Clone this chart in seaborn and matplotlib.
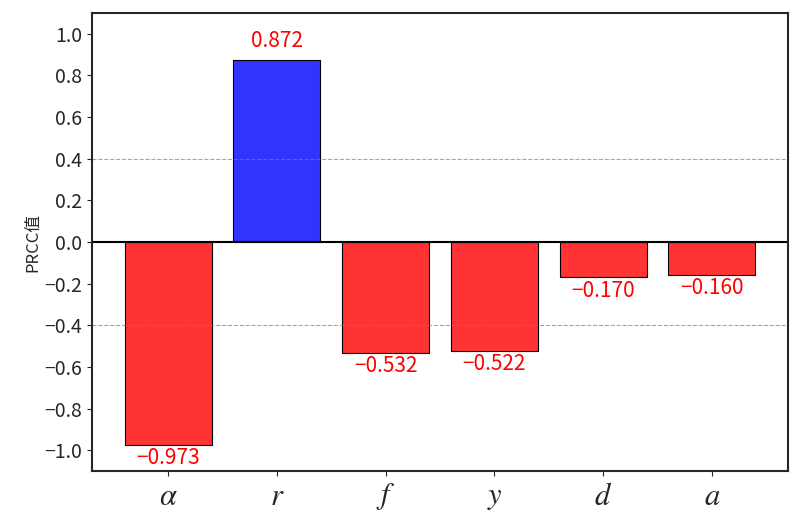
import numpy as np
import pandas as pd
import matplotlib
matplotlib.use('Agg')
import matplotlib.pyplot as plt
import seaborn as sns

params = ['alpha', 'r', 'f', 'y', 'd', 'a']
tick_labels = [r'$\alpha$', r'$r$', r'$f$', r'$y$', r'$d$', r'$a$']
prcc = [-0.973, 0.872, -0.532, -0.522, -0.170, -0.160]

sns.set_style("ticks")
plt.rcParams['font.family'] = ['Noto Sans CJK SC', 'DejaVu Sans']
plt.rcParams['axes.unicode_minus'] = True
plt.rcParams['mathtext.fontset'] = 'stix'

df = pd.DataFrame({'param': params, 'prcc': prcc})
df['sign'] = np.where(df['prcc'] > 0, 'pos', 'neg')

fig, ax = plt.subplots(figsize=(8, 5.15), dpi=100)
sns.barplot(data=df, x='param', y='prcc', hue='sign',
            palette={'pos': '#3333ff', 'neg': '#ff3333'}, saturation=1,
            width=0.8, edgecolor='black', linewidth=0.8,
            dodge=False, legend=False, ax=ax)

ax.axhline(0, color='black', linewidth=1.5)
ax.axhline(0.4, color='gray', linestyle='--', linewidth=0.8, alpha=0.7)
ax.axhline(-0.4, color='gray', linestyle='--', linewidth=0.8, alpha=0.7)

for i, v in enumerate(prcc):
    label = f'{v:.3f}'.replace('-', '\u2212')
    if v > 0:
        ax.text(i, v + 0.04, label, ha='center', va='bottom', color='red', fontsize=15)
    else:
        ax.text(i, v - 0.01, label, ha='center', va='top', color='red', fontsize=15)

ax.set_xticks(range(len(params)))
ax.set_xticklabels(tick_labels, fontsize=22)
ax.set_xlim(-0.7, 5.7)
ax.set_ylim(-1.1, 1.1)
ax.set_yticks(np.arange(-1.0, 1.01, 0.2))
ax.tick_params(axis='y', labelsize=14)
ax.set_xlabel('')
ax.set_ylabel('PRCC值', fontsize=12, labelpad=2)
for s in ax.spines.values():
    s.set_linewidth(1.5)

fig.subplots_adjust(left=0.115, right=0.985, top=0.975, bottom=0.085)
fig.savefig('out.png')
